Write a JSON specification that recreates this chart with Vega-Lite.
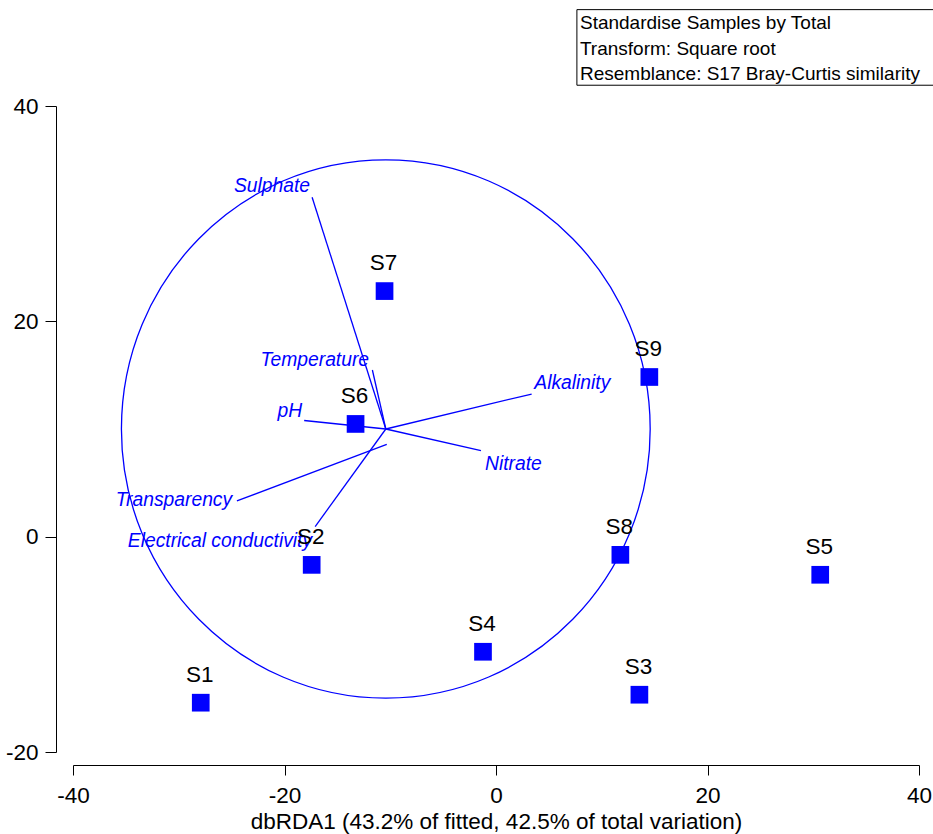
{
  "$schema": "https://vega.github.io/schema/vega-lite/v6.json",
  "width": 846,
  "height": 646,
  "autosize": {"type": "none"},
  "padding": {"left": 73, "top": 106, "right": 14, "bottom": 82},
  "background": "white",
  "config": {
    "view": {"stroke": null},
    "font": "Liberation Sans",
    "axis": {
      "domainColor": "black",
      "domainWidth": 1,
      "tickColor": "black",
      "tickWidth": 1,
      "labelColor": "black",
      "labelFont": "Liberation Sans",
      "labelFontSize": 22.5,
      "titleFont": "Liberation Sans",
      "titleFontSize": 22.5,
      "titleFontWeight": "normal",
      "titleColor": "black",
      "grid": false
    }
  },
  "datasets": {
    "samples": [
      {"name": "S1", "x": -27.92, "y": -15.42},
      {"name": "S2", "x": -17.43, "y": -2.62},
      {"name": "S3", "x": 13.56, "y": -14.68},
      {"name": "S4", "x": -1.23, "y": -10.69},
      {"name": "S5", "x": 30.66, "y": -3.54},
      {"name": "S6", "x": -13.28, "y": 10.47},
      {"name": "S7", "x": -10.54, "y": 22.81},
      {"name": "S8", "x": 11.76, "y": -1.69},
      {"name": "S9", "x": 14.5, "y": 14.83}
    ],
    "vectors": [
      {"name": "Sulphate", "x": -10.42, "y": 10.0, "x2": -17.39, "y2": 31.53},
      {"name": "Temperature", "x": -10.42, "y": 10.0, "x2": -11.69, "y2": 15.48},
      {"name": "pH", "x": -10.42, "y": 10.0, "x2": -18.14, "y2": 10.79},
      {"name": "Alkalinity", "x": -10.42, "y": 10.0, "x2": 3.37, "y2": 13.25},
      {"name": "Nitrate", "x": -10.42, "y": 10.0, "x2": -1.42, "y2": 7.99},
      {"name": "Transparency", "x": -10.33, "y": 8.58, "x2": -24.5, "y2": 3.32},
      {"name": "Electrical conductivity", "x": -10.42, "y": 10.0, "x2": -17.1, "y2": 0.94}
    ],
    "vectorLabels": [
      {"label": "Sulphate", "x": -17.58, "y": 31.99, "side": "right"},
      {"label": "Temperature", "x": -12.0, "y": 15.85, "side": "right"},
      {"label": "pH", "x": -18.33, "y": 11.12, "side": "right"},
      {"label": "Transparency", "x": -24.95, "y": 2.86, "side": "right"},
      {"label": "Electrical conductivity", "x": -17.39, "y": -0.95, "side": "right"},
      {"label": "Alkalinity", "x": 3.62, "y": 13.69, "side": "left"},
      {"label": "Nitrate", "x": -1.04, "y": 6.2, "side": "left"}
    ],
    "circle": [
      {"x": -10.42, "y": 10.0}
    ],
    "box": [
      {"x": 7.65, "y": 48.95, "x2": 42.5, "y2": 41.93}
    ],
    "boxText": [
      {"text": "Standardise Samples by Total", "x": 7.94, "y": 47.12},
      {"text": "Transform: Square root", "x": 7.94, "y": 44.75},
      {"text": "Resemblance: S17 Bray-Curtis similarity", "x": 7.94, "y": 42.39}
    ]
  },
  "encoding": {
    "x": {
      "field": "x",
      "type": "quantitative",
      "scale": {"domain": [-40, 40], "nice": false, "zero": false},
      "axis": {
        "title": "dbRDA1 (43.2% of fitted, 42.5% of total variation)",
        "values": [-40, -20, 0, 20, 40],
        "labelExpr": "'' + datum.value",
        "offset": 13,
        "tickSize": 10,
        "labelPadding": 9,
        "titlePadding": 4,
        "labelFlush": false
      }
    },
    "y": {
      "field": "y",
      "type": "quantitative",
      "scale": {"domain": [-20, 40], "nice": false, "zero": false},
      "axis": {
        "title": null,
        "values": [-20, 0, 20, 40],
        "labelExpr": "'' + datum.value",
        "offset": 17,
        "tickSize": 11,
        "labelPadding": 7,
        "labelFlush": false
      }
    }
  },
  "layer": [
    {
      "data": {"name": "circle"},
      "mark": {
        "type": "point",
        "shape": "M1,0 C1,0.5622 0.5523,1.018 0,1.018 C-0.5523,1.018 -1,0.5622 -1,0 C-1,-0.5622 -0.5523,-1.018 0,-1.018 C0.5523,-1.018 1,-0.5622 1,0 Z",
        "size": 279600,
        "filled": false,
        "stroke": "#0000ff",
        "strokeWidth": 1.3,
        "opacity": 1
      }
    },
    {
      "data": {"name": "vectors"},
      "mark": {"type": "rule", "color": "#0000ff", "strokeWidth": 1.3},
      "encoding": {
        "x2": {"field": "x2"},
        "y2": {"field": "y2"}
      }
    },
    {
      "data": {"name": "vectorLabels"},
      "transform": [{"filter": "datum.side === 'right'"}],
      "mark": {"type": "text", "align": "right", "baseline": "alphabetic", "fontStyle": "italic", "fontSize": 19.3, "color": "#0000ff", "font": "Liberation Sans"},
      "encoding": {"text": {"field": "label"}}
    },
    {
      "data": {"name": "vectorLabels"},
      "transform": [{"filter": "datum.side === 'left'"}],
      "mark": {"type": "text", "align": "left", "baseline": "alphabetic", "fontStyle": "italic", "fontSize": 19.3, "color": "#0000ff", "font": "Liberation Sans"},
      "encoding": {"text": {"field": "label"}}
    },
    {
      "data": {"name": "samples"},
      "mark": {"type": "point", "shape": "square", "filled": true, "size": 313, "color": "#0000ff", "opacity": 1},
      "encoding": {}
    },
    {
      "data": {"name": "samples"},
      "mark": {"type": "text", "align": "center", "baseline": "alphabetic", "dy": -21, "dx": -1, "fontSize": 22.5, "color": "black", "font": "Liberation Sans"},
      "encoding": {"text": {"field": "name"}}
    },
    {
      "data": {"name": "box"},
      "mark": {"type": "rect", "fill": "white", "stroke": "black", "strokeWidth": 1},
      "encoding": {
        "x2": {"field": "x2"},
        "y2": {"field": "y2"}
      }
    },
    {
      "data": {"name": "boxText"},
      "mark": {"type": "text", "align": "left", "baseline": "alphabetic", "fontSize": 19, "color": "black", "font": "Liberation Sans"},
      "encoding": {"text": {"field": "text"}}
    }
  ]
}
